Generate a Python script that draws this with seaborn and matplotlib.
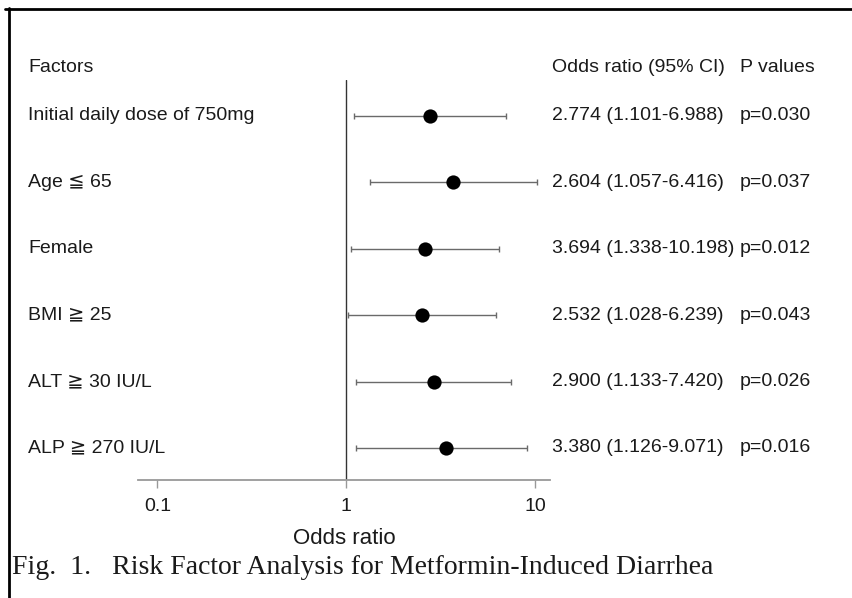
import matplotlib
matplotlib.use("Agg")
import matplotlib.pyplot as plt
import matplotlib.transforms as mtransforms
from matplotlib.lines import Line2D
import numpy as np
import pandas as pd
import seaborn as sns

# ---- data ----
factors = [
    "Initial daily dose of 750mg",
    "Age \u2266 65",
    "Female",
    "BMI \u2267 25",
    "ALT \u2267 30 IU/L",
    "ALP \u2267 270 IU/L",
]
# point estimates / CI as drawn (rows 2 and 3 are swapped in the drawing vs. the text)
odds_plotted = [2.774, 3.694, 2.604, 2.532, 2.900, 3.380]
ci_low_plotted = [1.101, 1.338, 1.057, 1.028, 1.133, 1.126]
ci_high_plotted = [6.988, 10.198, 6.416, 6.239, 7.420, 9.071]

or_text = [
    "2.774 (1.101-6.988)",
    "2.604 (1.057-6.416)",
    "3.694 (1.338-10.198)",
    "2.532 (1.028-6.239)",
    "2.900 (1.133-7.420)",
    "3.380 (1.126-9.071)",
]
p_text = ["p=0.030", "p=0.037", "p=0.012", "p=0.043", "p=0.026", "p=0.016"]
x_ticks = [0.1, 1, 10]
x_tick_labels = ["0.1", "1", "10"]

df = pd.DataFrame({
    "factor": factors,
    "row": np.arange(len(factors)),
    "odds": odds_plotted,
    "lo": ci_low_plotted,
    "hi": ci_high_plotted,
})

sns.set_theme(style="white")
plt.rcParams["font.family"] = ["Liberation Sans", "DejaVu Sans"]

W, H = 852, 598
fig = plt.figure(figsize=(W / 100, H / 100), dpi=100)

# axes placed in pixel terms: x 138..550, y 80..480 (from top)
ax = fig.add_axes([138 / W, 1 - 480 / H, (550 - 138) / W, (480 - 80) / H])
ax.set_xscale("log")
ax.set_xlim(0.079, 12.0)
row_px0, row_step = 116, 66.4
ax.set_ylim((480 - row_px0) / row_step, (80 - row_px0) / row_step)

# CI whiskers
ax.errorbar(
    df["odds"], df["row"],
    xerr=[df["odds"] - df["lo"], df["hi"] - df["odds"]],
    fmt="none", ecolor="#6a6a6a", elinewidth=1.0, capsize=2.2, capthick=1.0, zorder=2,
)
sns.scatterplot(data=df, x="odds", y="row", ax=ax, color="black", s=105,
                edgecolor="black", linewidth=0, zorder=3, legend=False)

ax.axvline(1, color="#333333", lw=1.0, zorder=1)

for side in ["top", "right", "left"]:
    ax.spines[side].set_visible(False)
ax.spines["bottom"].set_color("#999999")
ax.spines["bottom"].set_linewidth(1.3)
ax.set_yticks([])
ax.set_xticks(x_ticks)
ax.set_xticklabels(x_tick_labels)
ax.minorticks_off()
ax.tick_params(axis="x", bottom=True, length=6, width=1.0, color="#999999",
               labelsize=14, labelcolor="#1a1a1a", pad=7)
ax.set_xlabel("Odds ratio", fontsize=16, color="#1a1a1a", labelpad=9)
ax.set_ylabel("")

# text columns
trans = mtransforms.blended_transform_factory(fig.transFigure, ax.transData)
txt_kw = dict(fontsize=14, color="#1a1a1a", va="center", transform=trans)
for i in range(len(factors)):
    ax.text(28 / W, i, factors[i], **txt_kw)
    ax.text(552 / W, i, or_text[i], **txt_kw)
    ax.text(740 / W, i, p_text[i], **txt_kw)

hy = 1 - 68 / H
fig.text(28 / W, hy, "Factors", fontsize=14, color="#1a1a1a", va="center")
fig.text(552 / W, hy, "Odds ratio (95% CI)", fontsize=14, color="#1a1a1a", va="center")
fig.text(740 / W, hy, "P values", fontsize=14, color="#1a1a1a", va="center")

# caption
fig.text(12 / W, 1 - 567 / H,
         "Fig.  1.   Risk Factor Analysis for Metformin-Induced Diarrhea",
         family="Liberation Serif", fontsize=20, color="#1a1a1a", va="center")

# page frame (top and left edges)
fig.add_artist(Line2D([5 / W, 1], [1 - 9 / H, 1 - 9 / H], transform=fig.transFigure,
                      color="black", lw=2.0))
fig.add_artist(Line2D([9 / W, 9 / W], [0, 1 - 8 / H], transform=fig.transFigure,
                      color="black", lw=2.0))

fig.savefig("out.png", dpi=100)
